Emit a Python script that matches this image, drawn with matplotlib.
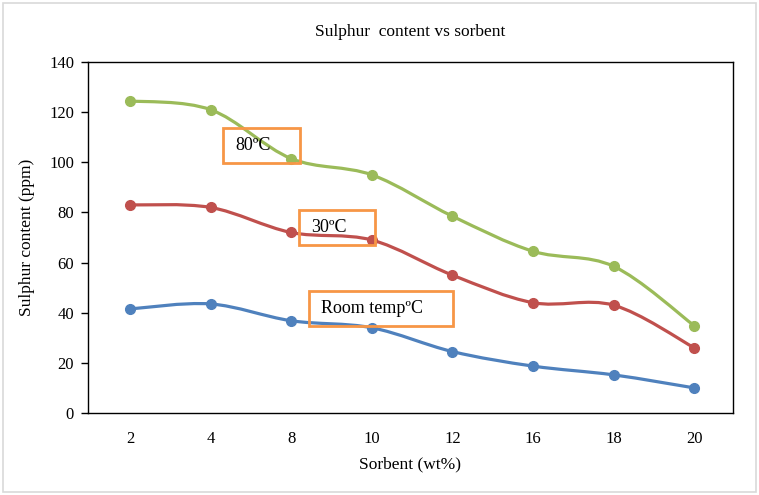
import matplotlib
matplotlib.use("Agg")
import matplotlib.pyplot as plt
from matplotlib.path import Path
from matplotlib.patches import PathPatch, Rectangle

# data
sorbent = ['2', '4', '8', '10', '12', '16', '18', '20']
room_temp = [41.5, 43.5, 36.8, 34.0, 24.5, 18.7, 15.2, 10.0]
temp_30 = [83.0, 82.0, 72.0, 69.0, 55.0, 44.0, 43.0, 26.0]
temp_80 = [124.5, 121.0, 101.5, 95.0, 78.5, 64.5, 58.5, 34.8]

SERIES = [(room_temp, '#4F81BD'), (temp_30, '#C0504D'), (temp_80, '#9BBB59')]
BOX = '#F79646'
plt.rcParams['font.family'] = ['Liberation Serif', 'DejaVu Serif']


def smooth_path(xs, ys):
    """Excel-like smoothed line: Catmull-Rom converted to cubic Bezier."""
    pts = list(zip(xs, ys))
    n = len(pts)
    verts, codes = [pts[0]], [Path.MOVETO]
    for i in range(n - 1):
        p0 = pts[max(i - 1, 0)]
        p1 = pts[i]
        p2 = pts[i + 1]
        p3 = pts[min(i + 2, n - 1)]
        c1 = (p1[0] + (p2[0] - p0[0]) / 6, p1[1] + (p2[1] - p0[1]) / 6)
        c2 = (p2[0] - (p3[0] - p1[0]) / 6, p2[1] - (p3[1] - p1[1]) / 6)
        verts += [c1, c2, p2]
        codes += [Path.CURVE4] * 3
    return Path(verts, codes)


fig = plt.figure(figsize=(7.59, 4.95), dpi=100)
fig.patches.append(Rectangle((0.004, 0.006), 0.992, 0.988, transform=fig.transFigure,
                             fill=False, edgecolor='#D9D9D9', linewidth=1.2))
ax = fig.add_axes([0.1159, 0.1657, 0.8498, 0.709])

x = list(range(len(sorbent)))
for vals, col in SERIES:
    ax.add_patch(PathPatch(smooth_path(x, vals), fill=False, edgecolor=col,
                           linewidth=2.3, zorder=2, capstyle='round'))
    ax.plot(x, vals, linestyle='none', marker='o', markersize=7, color=col, zorder=3)

ax.set_xlim(-0.52, 7.48)
ax.set_ylim(0, 140)
ax.set_yticks(range(0, 141, 20))
ax.set_xticks(x)
ax.set_xticklabels(sorbent)
ax.tick_params(axis='x', length=0, pad=13, labelsize=12)
ax.tick_params(axis='y', length=5, width=1, labelsize=12, pad=5)
for s in ax.spines.values():
    s.set_linewidth(1)

ax.set_title('Sulphur  content vs sorbent', fontsize=12.5, pad=19)
ax.set_xlabel('Sorbent (wt%)', fontsize=12.5, labelpad=7)
ax.set_ylabel('Sulphur content (ppm)', fontsize=12.5, labelpad=10)


def label_box(x0, y0, x1, y1, text):
    # positions in figure pixels (top-left origin)
    W, H = 759, 495
    fig.patches.append(Rectangle((x0 / W, 1 - y1 / H), (x1 - x0) / W, (y1 - y0) / H,
                                 transform=fig.transFigure, fill=False,
                                 edgecolor=BOX, linewidth=2, zorder=5))
    fig.text((x0 + 12) / W, 1 - (y0 + y1) / 2 / H, text, fontsize=13,
             va='center', ha='left', zorder=6)


label_box(223, 128, 300, 163, '80ºC')
label_box(299, 210, 375, 245, '30ºC')
label_box(309, 291, 453, 326, 'Room tempºC')

fig.savefig('out.png', dpi=100)
